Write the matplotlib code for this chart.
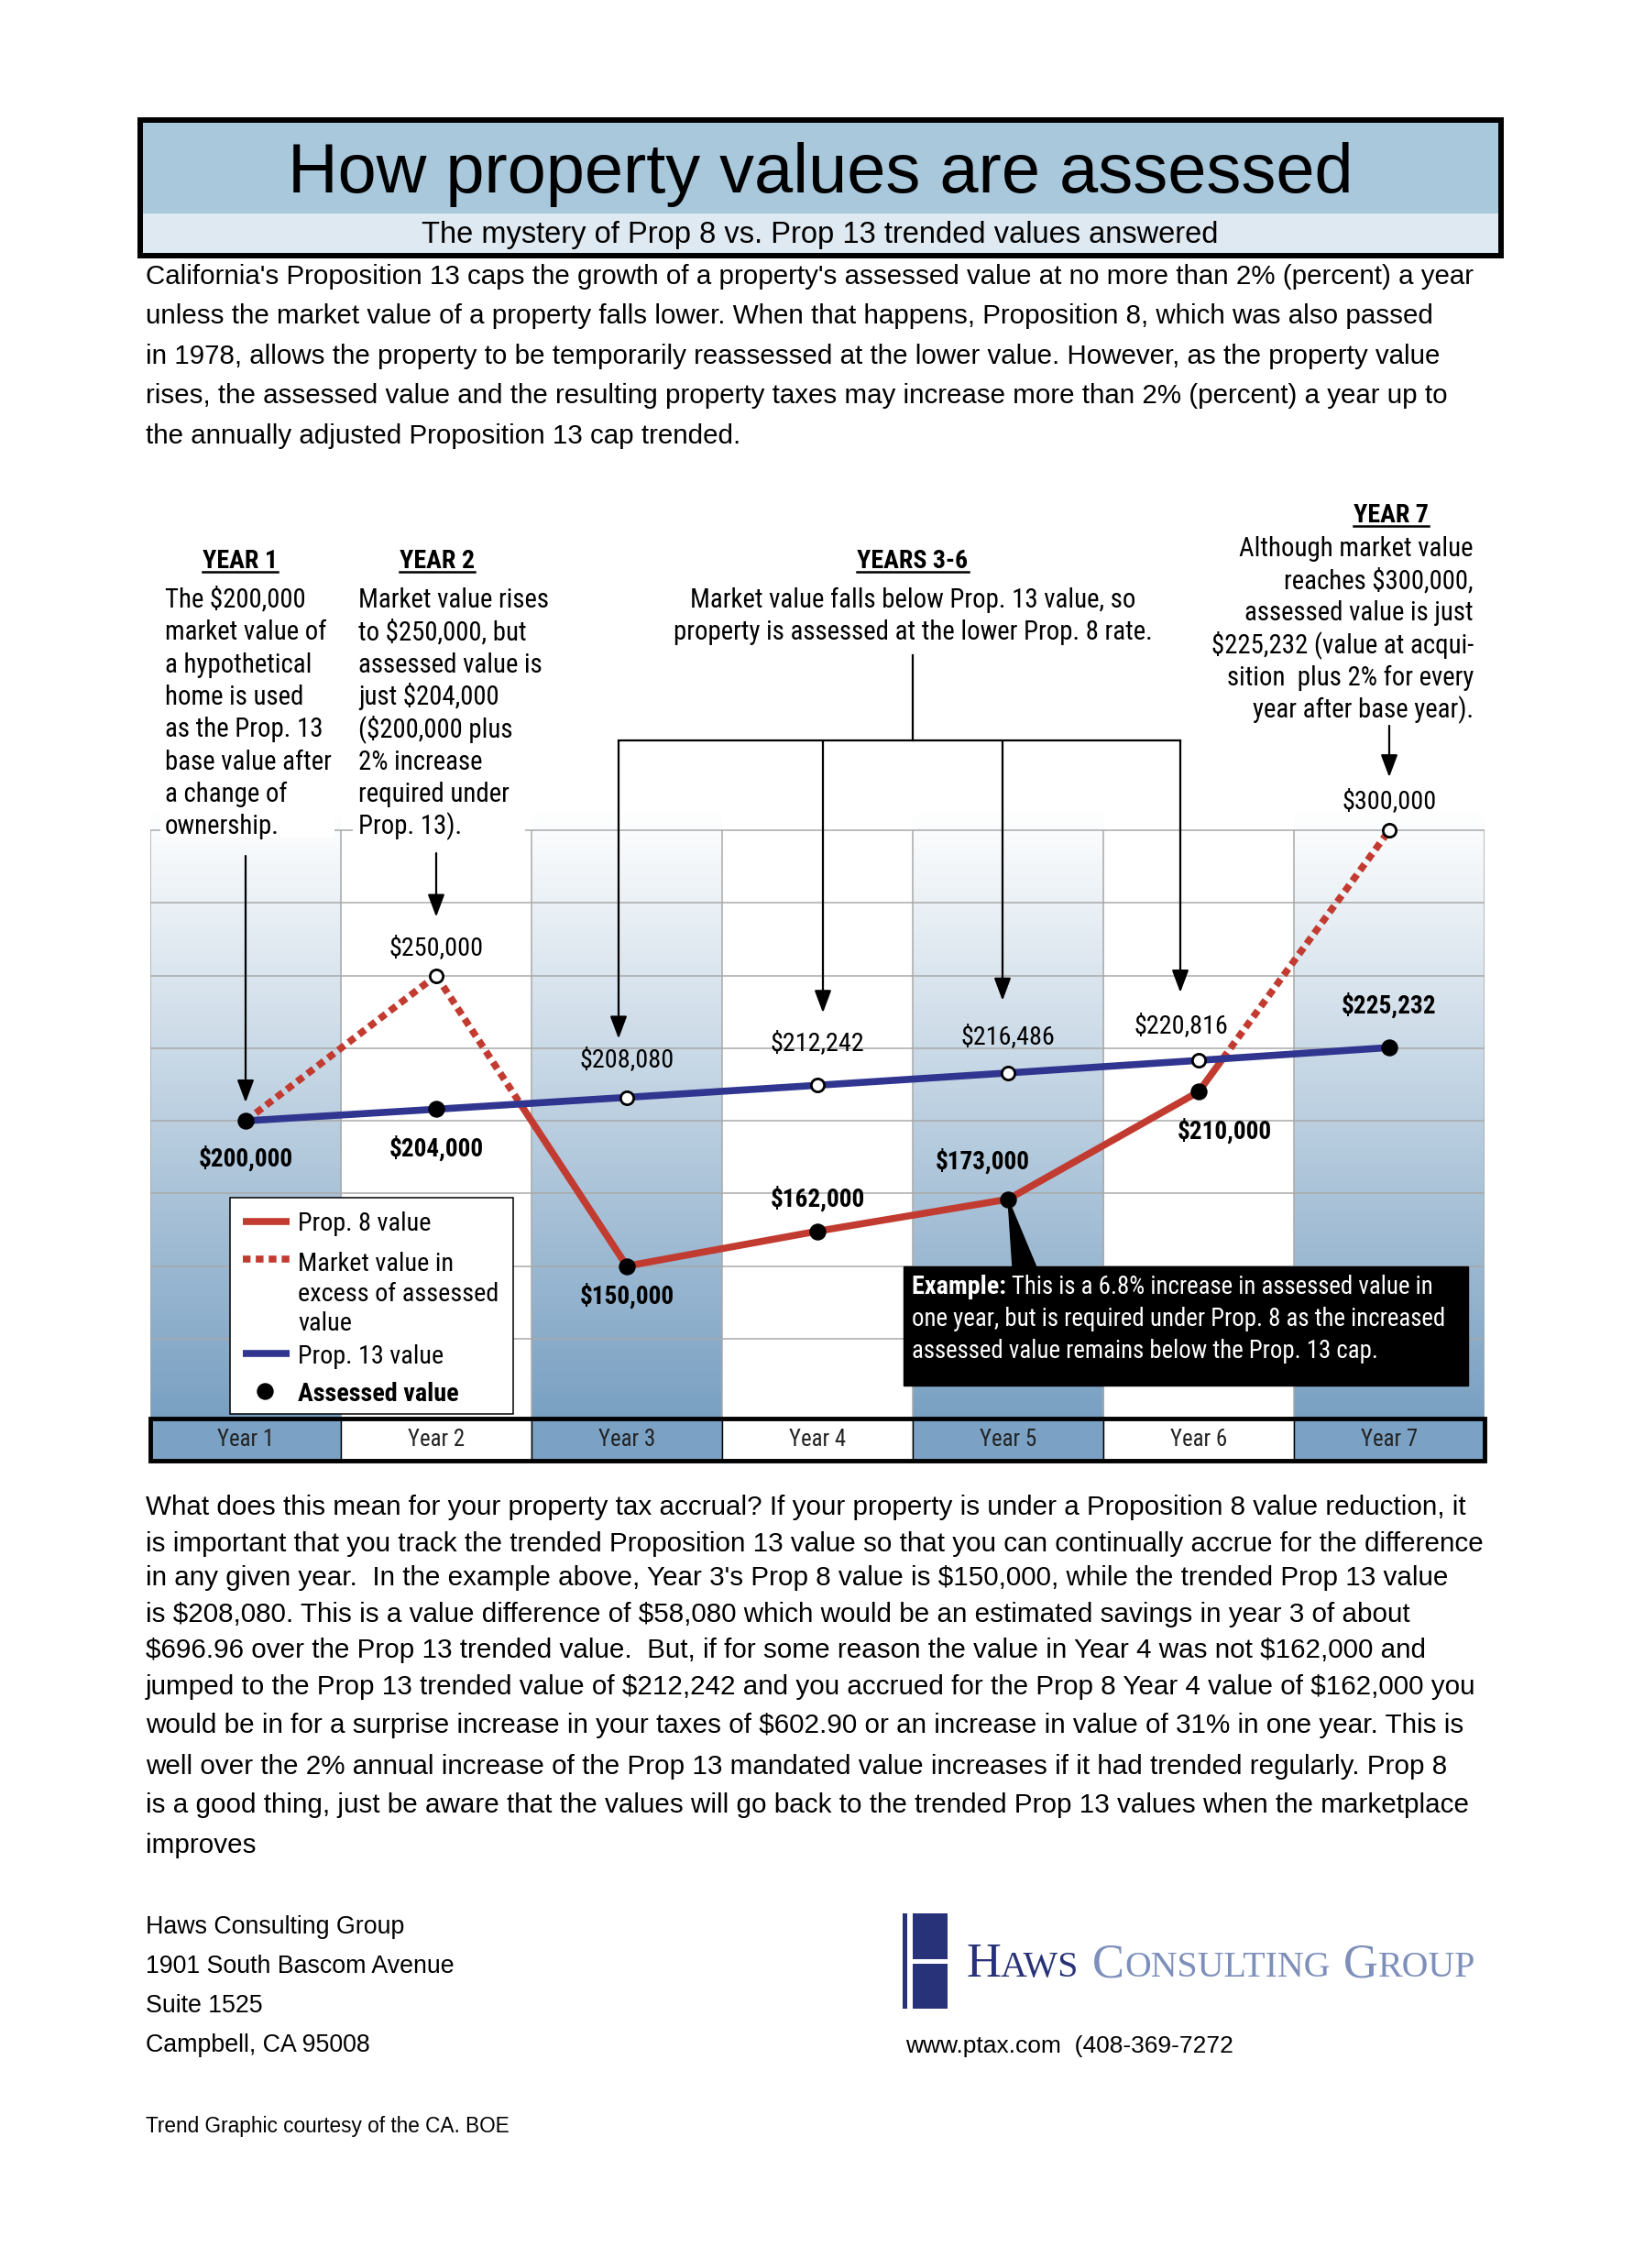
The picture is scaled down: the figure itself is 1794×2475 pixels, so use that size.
import os
import numpy as np
import matplotlib.pyplot as plt
from matplotlib import font_manager as fm
from matplotlib.patches import Rectangle, Polygon
from matplotlib.colors import LinearSegmentedColormap

plt.rcParams['text.parse_math'] = False

W, H = 1794, 2475
SANS = ['Liberation Sans', 'DejaVu Sans']
SERIF = ['Liberation Serif', 'DejaVu Serif']
RED = '#c23b30'
BLUE = '#30358f'
NAVY = '#283278'
SLATE = '#7d8fba'

# ---- data ----
years = [1, 2, 3, 4, 5, 6, 7]
year_labels = ['Year 1', 'Year 2', 'Year 3', 'Year 4', 'Year 5', 'Year 6', 'Year 7']
market_value = [200000, 250000, 150000, 162000, 173000, 210000, 300000]
prop13_value = [200000, 204000, 208080, 212242, 216486, 220816, 225232]
grid_values = [125000, 150000, 175000, 200000, 225000, 250000, 275000, 300000]

title = 'How property values are assessed'
subtitle = 'The mystery of Prop 8 vs. Prop 13 trended values answered'
intro_lines = [
    "California's Proposition 13 caps the growth of a property's assessed value at no more than 2% (percent) a year",
    "unless the market value of a property falls lower. When that happens, Proposition 8, which was also passed",
    "in 1978, allows the property to be temporarily reassessed at the lower value. However, as the property value",
    "rises, the assessed value and the resulting property taxes may increase more than 2% (percent) a year up to",
    "the annually adjusted Proposition 13 cap trended.",
]
year1_lines = ['The $200,000', 'market value of', 'a hypothetical', 'home is used',
               'as the Prop. 13', 'base value after', 'a change of', 'ownership.']
year2_lines = ['Market value rises', 'to $250,000, but', 'assessed value is', 'just $204,000',
               '($200,000 plus', '2% increase', 'required under', 'Prop. 13).']
years36_lines = ['Market value falls below Prop. 13 value, so',
                 'property is assessed at the lower Prop. 8 rate.']
year7_lines = ['Although market value', 'reaches $300,000,', 'assessed value is just',
               '$225,232 (value at acqui-', 'sition  plus 2% for every', 'year after base year).']
example_lines = ['This is a 6.8% increase in assessed value in',
                 'one year, but is required under Prop. 8 as the increased',
                 'assessed value remains below the Prop. 13 cap.']
outro_lines = [
    "What does this mean for your property tax accrual? If your property is under a Proposition 8 value reduction, it",
    "is important that you track the trended Proposition 13 value so that you can continually accrue for the difference",
    "in any given year.  In the example above, Year 3's Prop 8 value is $150,000, while the trended Prop 13 value",
    "is $208,080. This is a value difference of $58,080 which would be an estimated savings in year 3 of about",
    "$696.96 over the Prop 13 trended value.  But, if for some reason the value in Year 4 was not $162,000 and",
    "jumped to the Prop 13 trended value of $212,242 and you accrued for the Prop 8 Year 4 value of $162,000 you",
    "would be in for a surprise increase in your taxes of $602.90 or an increase in value of 31% in one year. This is",
    "well over the 2% annual increase of the Prop 13 mandated value increases if it had trended regularly. Prop 8",
    "is a good thing, just be aware that the values will go back to the trended Prop 13 values when the marketplace",
    "improves",
]
address_lines = ['Haws Consulting Group', '1901 South Bascom Avenue', 'Suite 1525', 'Campbell, CA 95008']

# label offsets in pixels (dx, dy downwards) from each point
assessed_offset = [(0, 41), (0, 43), (0, 33), (0, -35), (-28, -41), (28, 43), (0, -46)]
other_offset = [None, (0, -30), (0, -41), (0, -46), (0, -39), (-19, -38), (0, -32)]

# narrow face for the chart notes, if one is installed
narrow_files = [('liberationsansnarrow-regular.ttf', 'liberationsansnarrow-bold.ttf'),
                ('robotocondensed-regular.ttf', 'robotocondensed-bold.ttf'),
                ('notosans-condensed.ttf', 'notosans-condensedbold.ttf'),
                ('opensans-condensedregular.ttf', 'opensans-condensedbold.ttf')]
by_name = {os.path.basename(f.fname).lower(): f.fname for f in fm.fontManager.ttflist}
NARROW = None
for reg, bold in narrow_files:
    if reg in by_name and bold in by_name:
        NARROW = (by_name[reg], by_name[bold])
        break


def nfp(size, bold=False):
    if NARROW is None:
        return fm.FontProperties(family=SANS, weight='bold' if bold else 'normal', size=size)
    return fm.FontProperties(fname=NARROW[1 if bold else 0], size=size)


def sfp(size, family=SANS, bold=False):
    return fm.FontProperties(family=family, weight='bold' if bold else 'normal', size=size)


fig = plt.figure(figsize=(W / 100, H / 100), dpi=100)
fig.patch.set_facecolor('white')
renderer = fig.canvas.get_renderer()


def width_of(s, prop):
    t = fig.text(0, 0, s, fontproperties=prop)
    w = t.get_window_extent(renderer).width
    t.remove()
    return w


def fit(s, width, maker, **kw):
    return 20 * width / width_of(s, maker(20, **kw))


# ---- chart axes ----
ymin, ymax = 97500, 307000
ax = fig.add_axes([164 / W, 1 - 1548 / H, (1620 - 164) / W, (1548 - 884) / H])
shade = LinearSegmentedColormap.from_list('shade', ['#79a0c2', '#ffffff'])
grad = np.linspace(0, 1, 256).reshape(-1, 1)
for yr in years[::2]:
    ax.imshow(grad, extent=(yr - 0.5, yr + 0.5, ymin, ymax), origin='lower',
              cmap=shade, aspect='auto', zorder=0)
ax.set_xlim(0.5, 7.5)
ax.set_ylim(ymin, ymax)
ax.axis('off')
ax.hlines(grid_values, 0.5, 7.5, color='#a9a9a9', lw=1.1, zorder=1)
ax.vlines(np.arange(0.5, 8), ymin, grid_values[-1], color='#a9a9a9', lw=1.1, zorder=1)

ax.plot(years, prop13_value, color=BLUE, lw=5.5, solid_capstyle='butt', zorder=3)

dash = (0, (1.1, 0.75))
for i in range(len(years) - 1):
    xa, xb = years[i], years[i + 1]
    ma, mb = market_value[i], market_value[i + 1]
    da = ma - prop13_value[i]
    db = mb - prop13_value[i + 1]
    if da * db < 0:
        t = da / (da - db)
        xc, yc = xa + t * (xb - xa), ma + t * (mb - ma)
        pieces = [((xa, xc), (ma, yc), da > 0), ((xc, xb), (yc, mb), db > 0)]
    else:
        pieces = [((xa, xb), (ma, mb), da > 0 or db > 0)]
    for xs, ys, above in pieces:
        if above:
            ax.plot(xs, ys, color=RED, lw=5.5, linestyle=dash, dash_capstyle='butt', zorder=2)
        else:
            ax.plot(xs, ys, color=RED, lw=5.5, solid_capstyle='round', zorder=2)

assessed = [min(m, p) for m, p in zip(market_value, prop13_value)]
other = [max(m, p) for m, p in zip(market_value, prop13_value)]
ax.scatter(years, assessed, s=150, color='black', zorder=5, clip_on=False)
ox = [y for y, a, o in zip(years, assessed, other) if o != a]
oy = [o for a, o in zip(assessed, other) if o != a]
ax.scatter(ox, oy, s=105, facecolor='white', edgecolor='black', linewidth=2, zorder=5, clip_on=False)


def px(x, y):
    X, Y = ax.transData.transform((x, y))
    return X, H - Y


# ---- overlay in page pixels ----
ov = fig.add_axes([0, 0, 1, 1])
ov.set_xlim(0, W)
ov.set_ylim(H, 0)
ov.axis('off')

# title box
ov.add_patch(Rectangle((153, 131), 1485, 102, facecolor='#a9c8dc', edgecolor='none'))
ov.add_patch(Rectangle((153, 233), 1485, 46, facecolor='#dfe9f1', edgecolor='none'))
ov.add_patch(Rectangle((153, 131), 1485, 148, facecolor='none', edgecolor='black', lw=4.3))
ov.text(895, 210, title, fontproperties=sfp(fit(title, 1160, sfp)), ha='center', va='baseline')
ov.text(895, 265, subtitle, fontproperties=sfp(fit(subtitle, 868, sfp)), ha='center', va='baseline')

fs = fit(intro_lines[0], 1444, sfp)
for i, line in enumerate(intro_lines):
    ov.text(159, 310 + i * 43.4, line, fontproperties=sfp(fs), va='baseline')

# annotation blocks above the chart
hs = fit('YEARS 3-6', 121, nfp, bold=True)
bs = fit('Market value rises', 207, nfp)


def header(x, y, s):
    ov.text(x, y, s, fontproperties=nfp(hs, True), ha='center', va='baseline')
    w = width_of(s, nfp(hs, True))
    ov.plot([x - w / 2, x + w / 2], [y + 4, y + 4], color='black', lw=1.8)


ov.add_patch(Rectangle((175, 640), 190, 274, facecolor='white', edgecolor='none', zorder=1))
ov.add_patch(Rectangle((385, 640), 188, 274, facecolor='white', edgecolor='none', zorder=1))
header(262, 620, 'YEAR 1')
header(477, 620, 'YEAR 2')
header(996, 620, 'YEARS 3-6')
header(1518, 570, 'YEAR 7')
for i, line in enumerate(year1_lines):
    ov.text(180, 663 + i * 35.3, line, fontproperties=nfp(bs), va='baseline', zorder=2)
for i, line in enumerate(year2_lines):
    ov.text(391, 663 + i * 35.3, line, fontproperties=nfp(bs), va='baseline', zorder=2)
for i, line in enumerate(years36_lines):
    ov.text(996, 663 + i * 35.3, line, fontproperties=nfp(bs), ha='center', va='baseline')
for i, line in enumerate(year7_lines):
    ov.text(1608, 607 + i * 35.2, line, fontproperties=nfp(bs), ha='right', va='baseline')

arrow = dict(arrowstyle='-|>,head_length=0.75,head_width=0.28', color='black', lw=1.6,
             mutation_scale=20, shrinkA=0, shrinkB=0)


def down_arrow(x, y_start, y_tip):
    ov.annotate('', xy=(x, y_tip), xytext=(x, y_start), arrowprops=arrow)


bx, by = px(1, assessed[0])
down_arrow(bx, 934, by - 20)
bx, by = px(2, market_value[1])
down_arrow(bx, 931, by - 64)
bx, by = px(7, market_value[6])
down_arrow(bx, 792, by - 58)

drop_dx = [-9, 6, -6, -20]
drop_gap = [64, 79, 79, 74]
drops = []
for k, yr in enumerate(years[2:6]):
    bx, by = px(yr, prop13_value[yr - 1])
    drops.append(bx + drop_dx[k])
    down_arrow(bx + drop_dx[k], 808, by - drop_gap[k])
ov.plot([996, 996], [715, 808], color='black', lw=1.6)
ov.plot([drops[0], drops[-1]], [808, 808], color='black', lw=1.6)

# value labels
ls_b = fit('$200,000', 103, nfp, bold=True)
ls_r = fit('$250,000', 103, nfp)
for i, yr in enumerate(years):
    bx, by = px(yr, assessed[i])
    dx, dy = assessed_offset[i]
    ov.text(bx + dx, by + dy, f'${assessed[i]:,}', fontproperties=nfp(ls_b, True),
            ha='center', va='center')
    if other_offset[i] is not None:
        bx, by = px(yr, other[i])
        dx, dy = other_offset[i]
        ov.text(bx + dx, by + dy, f'${other[i]:,}', fontproperties=nfp(ls_r),
                ha='center', va='center')

# legend
ov.add_patch(Rectangle((251, 1307), 309, 236, facecolor='white', edgecolor='black', lw=1.1))
lg = fit('Prop. 8 value', 145, nfp)
ov.plot([265, 316], [1333, 1333], color=RED, lw=5.5, solid_capstyle='butt')
ov.plot([265, 316], [1374, 1374], color=RED, lw=5.5, linestyle=dash, dash_capstyle='butt')
ov.plot([265, 316], [1477, 1477], color=BLUE, lw=5.5, solid_capstyle='butt')
ov.scatter([289], [1518], s=150, color='black')
ov.text(325, 1343, 'Prop. 8 value', fontproperties=nfp(lg), va='baseline')
for i, line in enumerate(['Market value in', 'excess of assessed', 'value']):
    ov.text(325, 1387 + i * 32.5, line, fontproperties=nfp(lg), va='baseline')
ov.text(325, 1488, 'Prop. 13 value', fontproperties=nfp(lg), va='baseline')
ov.text(325, 1529, 'Assessed value', fontproperties=nfp(lg, True), va='baseline')

# example box
bx, by = px(5, assessed[4])
ov.add_patch(Polygon([(bx, by), (bx + 5, 1383), (bx + 31, 1383)], closed=True,
                     facecolor='black', edgecolor='black'))
ov.add_patch(Rectangle((986, 1382), 616, 130, facecolor='black', edgecolor='black'))
es = fit(example_lines[1], 581, nfp)
lead = 'Example: '
ov.text(995, 1412, lead, fontproperties=nfp(es * 1.05, True), color='white', va='baseline')
lw_lead = width_of(lead, nfp(es * 1.05, True))
ov.text(995 + lw_lead, 1412, example_lines[0], fontproperties=nfp(es), color='white', va='baseline')
for i, line in enumerate(example_lines[1:]):
    ov.text(995, 1447 + i * 35, line, fontproperties=nfp(es), color='white', va='baseline')

# year bar
ys = fit('Year 1', 62, nfp)
for i, yr in enumerate(years):
    xa, _ = px(yr - 0.5, ymin)
    xb, _ = px(yr + 0.5, ymin)
    face = '#7ba2c4' if i % 2 == 0 else 'white'
    ov.add_patch(Rectangle((xa, 1548), xb - xa, 46, facecolor=face, edgecolor='black', lw=1))
    ov.text((xa + xb) / 2, 1571, year_labels[i], fontproperties=nfp(ys),
            color='#222222', ha='center', va='center')
ov.add_patch(Rectangle((164, 1548), 1456, 46, facecolor='none', edgecolor='black', lw=3.5))

# closing text
fs = fit(outro_lines[0], 1439, sfp)
outro_y = [1653, 1693, 1730, 1770, 1809, 1849, 1891, 1936, 1978, 2022]
for y, line in zip(outro_y, outro_lines):
    ov.text(159, y, line, fontproperties=sfp(fs), va='baseline')

asz = fit(address_lines[1], 337, sfp)
for i, line in enumerate(address_lines):
    ov.text(159, 2110 + i * 43, line, fontproperties=sfp(asz), va='baseline')
credit = 'Trend Graphic courtesy of the CA. BOE'
ov.text(159, 2327, credit, fontproperties=sfp(fit(credit, 397, sfp)), va='baseline')
web = 'www.ptax.com  (408-369-7272'
ov.text(988, 2240, web, fontproperties=sfp(fit(web, 357, sfp)), va='baseline')

# logo
ov.add_patch(Rectangle((985, 2088), 5, 104, facecolor=NAVY, edgecolor='none'))
ov.add_patch(Rectangle((996, 2088), 38, 50, facecolor=NAVY, edgecolor='none'))
ov.add_patch(Rectangle((996, 2143), 38, 49, facecolor=NAVY, edgecolor='none'))
logo_parts = [('H', 1.0, NAVY, 0), ('AWS', 0.76, NAVY, 1), ('C', 1.0, SLATE, 0),
              ('ONSULTING', 0.76, SLATE, 1), ('G', 1.0, SLATE, 0), ('ROUP', 0.76, SLATE, 0)]
base = 30
space = 0.28 * base * 100 / 72
total = sum(width_of(s, sfp(base * r, SERIF)) + sp * space for s, r, c, sp in logo_parts)
scale = 556 / total
x = 1054
for s, r, c, sp in logo_parts:
    size = base * r * scale
    ov.text(x, 2157, s, fontproperties=sfp(size, SERIF), color=c, va='baseline')
    x += width_of(s, sfp(size, SERIF)) + sp * space * scale

fig.savefig('out.png', dpi=100, facecolor='white')
